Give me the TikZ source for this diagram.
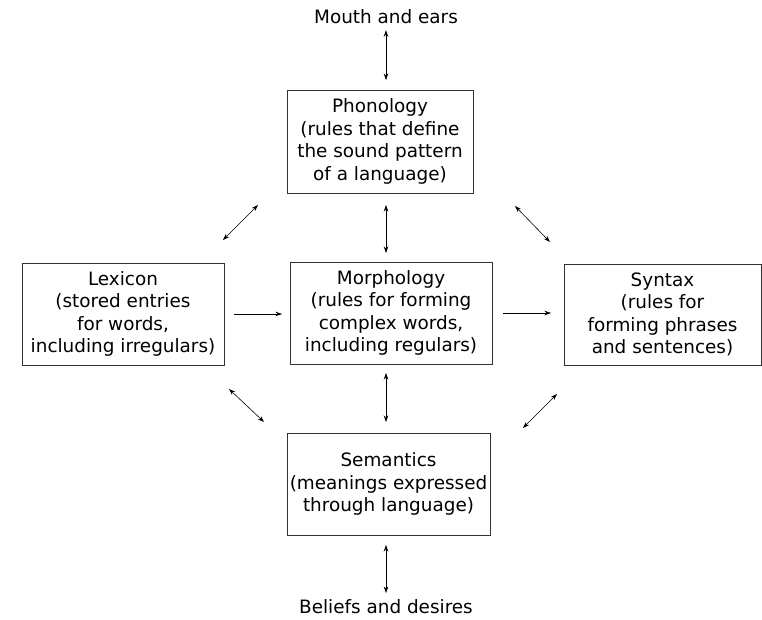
\documentclass[tikz,border=0pt]{standalone}
\usepackage{fontspec}
\setmainfont{DejaVu Sans}
\usetikzlibrary{arrows.meta}
\tikzset{
    x={(1bp,0bp)},
    y={(0bp,-1bp)},
    tip/.style={Stealth[length=6.5bp,width=4.5bp]},
    part/.style={
        draw=black!80,
        line width=0.8pt,
        align=center,
        inner sep=0pt,
        outer sep=0pt
    },
    label/.style={inner sep=0pt,outer sep=0pt},
    link/.style={line width=0.6pt,{Stealth[length=6.5bp,width=4.5bp]}-{Stealth[length=6.5bp,width=4.5bp]}},
    feed/.style={line width=0.6pt,-{Stealth[length=6.5bp,width=4.5bp]}}
}
\begin{document}
\begin{tikzpicture}[font=\fontsize{18.4bp}{22.5bp}\selectfont]
    \useasboundingbox (0,0) rectangle (762,620);
    % outer ends
    \node[label,anchor=base] (ears) at (386,24) {Mouth and ears};
    \node[label,anchor=base] (beliefs) at (386,613) {Beliefs and desires};
    % the five parts
    \node[part,minimum width=186bp,minimum height=103bp] (phon) at (380,141.5)
        {Phonology\\(rules that define\\the sound pattern\\of a language)};
    \node[part,minimum width=202bp,minimum height=102bp] (morph) at (391,313)
        {Morphology\\(rules for forming\\complex words,\\including regulars)};
    \node[part,minimum width=202bp,minimum height=102bp] (lex) at (123,314)
        {Lexicon\\(stored entries\\for words,\\including irregulars)};
    \node[part,minimum width=197bp,minimum height=101bp] (syn) at (662.5,314.5)
        {Syntax\\(rules for\\forming phrases\\and sentences)};
    \node[part,minimum width=203bp,minimum height=102bp] (sem) at (388.5,484)
        {Semantics\\(meanings expressed\\through language)};
    % draw vertical links
    \draw[link,shorten <=6bp,shorten >=10bp] (ears.south) -- (phon.north -| ears);
    \draw[link,shorten <=12bp,shorten >=9bp] (phon.south -| ears) -- (morph.north -| ears);
    \draw[link,shorten <=9bp,shorten >=11bp] (morph.south -| ears) -- (sem.north -| ears);
    \draw[link,shorten <=10bp,shorten >=6bp] (sem.south -| ears) -- (beliefs.north);
    % draw horizontal feeds
    \draw[feed,shorten <=10bp,shorten >=8bp] (lex.east) -- (morph.west |- lex.east);
    \draw[feed,shorten <=11bp,shorten >=13bp] (morph.east) -- (syn.west |- morph.east);
    % draw diagonal links
    \coordinate (lp1) at (223,240);
    \coordinate (lp2) at (258,205);
    \coordinate (ps1) at (515,206);
    \coordinate (ps2) at (550,242);
    \coordinate (ls1) at (229,389);
    \coordinate (ls2) at (264,422);
    \coordinate (ss1) at (557,394);
    \coordinate (ss2) at (523,428);
    \draw[link] (lp1) -- (lp2);
    \draw[link] (ps1) -- (ps2);
    \draw[link] (ls1) -- (ls2);
    \draw[link] (ss1) -- (ss2);
\end{tikzpicture}
\end{document}
